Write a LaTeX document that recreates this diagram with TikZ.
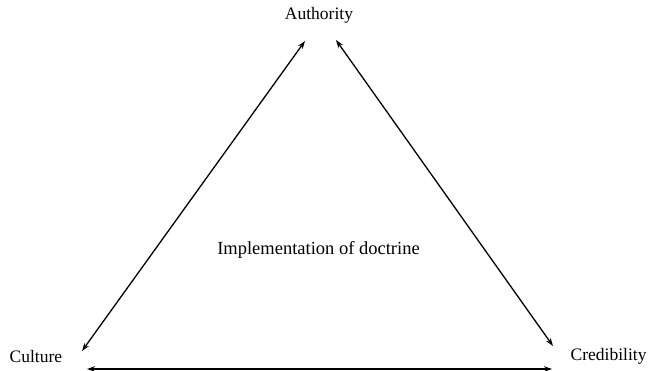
\documentclass[tikz,border=0pt]{standalone}
\usepackage{fontspec}
\setmainfont{Liberation Serif}
\usetikzlibrary{arrows.meta}

\begin{document}
\begin{tikzpicture}[x=1pt, y=-1pt, line width=1.3pt, line cap=round,
  lbl/.style={inner sep=0pt, font=\fontsize{17.5}{20}\selectfont},
  dbl/.style={{Stealth[length=8pt,width=5.5pt]}-{Stealth[length=8pt,width=5.5pt]}}]

  %% ==== labels ====
  \node[lbl] (authority) at (319.0,15.0) {Authority};
  \node[lbl, anchor=west] (culture) at (9.0,357.0) {Culture};
  \node[lbl, anchor=west] (credibility) at (570.0,356.0) {Credibility};
  \node[lbl, font=\fontsize{18.5}{21}\selectfont] (doctrine) at (318.5,250.0) {Implementation of doctrine};

  %% ==== arrow ends ====
  \coordinate (topL) at (305.0,41.0);
  \coordinate (topR) at (336.0,40.0);
  \coordinate (cultEnd) at (82.0,351.0);
  \coordinate (credEnd) at (553.0,346.0);
  \coordinate (botL) at (87.0,369.0);
  \coordinate (botR) at (552.0,369.0);

  %% ==== sides ====
  \draw[dbl] (cultEnd) -- (topL);
  \draw[dbl] (topR) -- (credEnd);
  \draw[dbl] (botL) -- (botR);

  \pgfresetboundingbox
  \path[use as bounding box] (0,0) rectangle (648,371);
\end{tikzpicture}
\end{document}
